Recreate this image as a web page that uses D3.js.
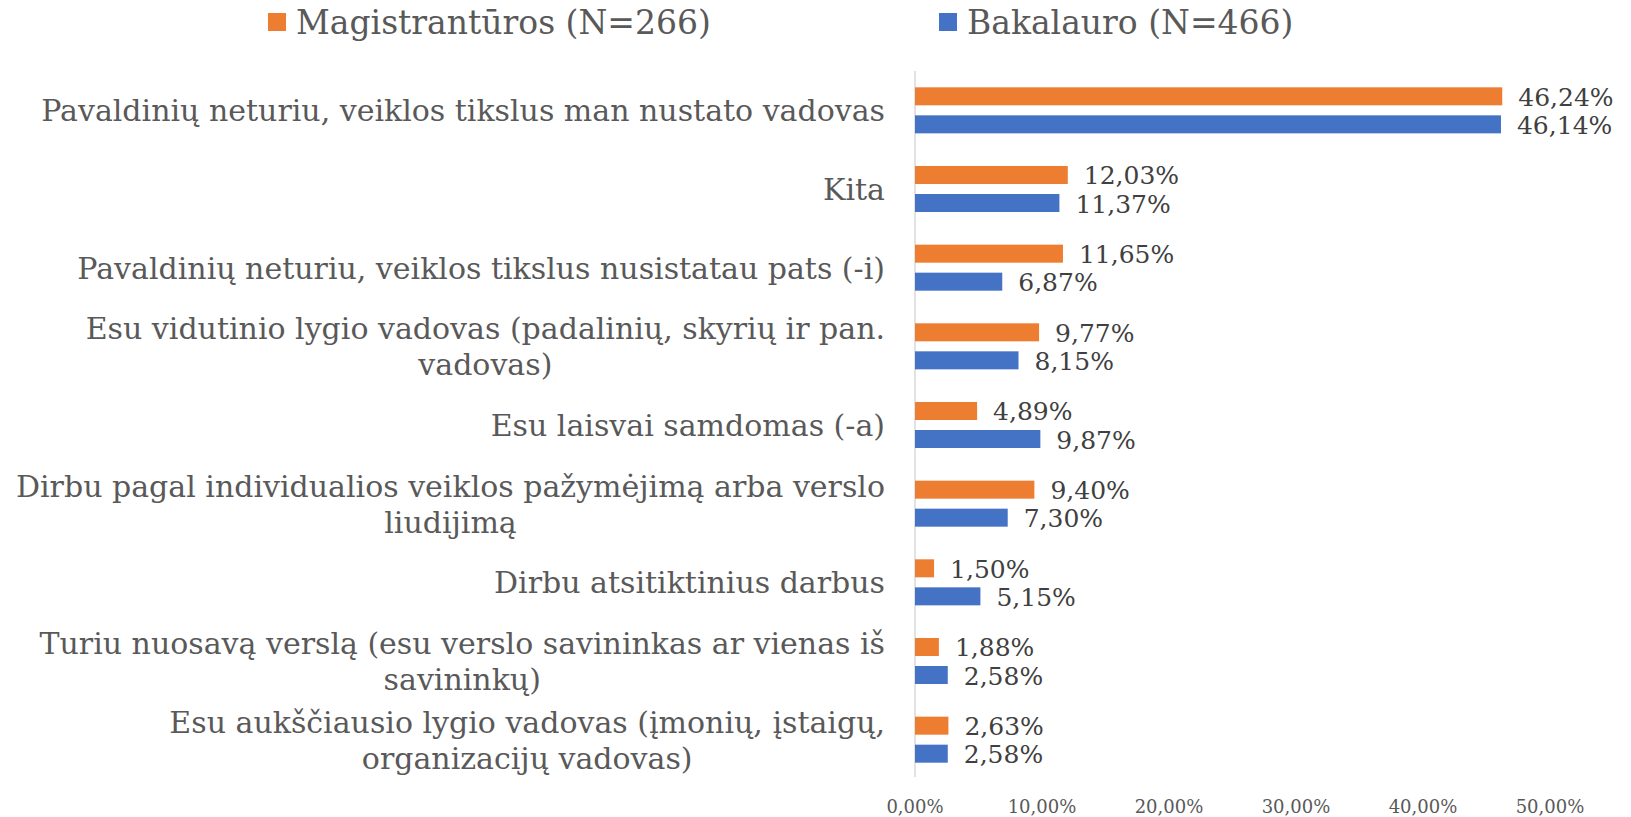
<!DOCTYPE html>
<html>
<head>
<meta charset="utf-8">
<script src="https://cdn.jsdelivr.net/npm/d3@7"></script>
<style>
  body { margin: 0; background: #fff; }
  svg { font-family: "DejaVu Serif", "Liberation Serif", serif; }
</style>
</head>
<body>
<svg id="chart" width="1631" height="817"></svg>
<script>
// categories, top to bottom (line breaks as in the original)
const categories = [
  ["Pavaldinių neturiu, veiklos tikslus man nustato vadovas"],
  ["Kita"],
  ["Pavaldinių neturiu, veiklos tikslus nusistatau pats (-i)"],
  ["Esu vidutinio lygio vadovas (padalinių, skyrių ir pan.", "vadovas)"],
  ["Esu laisvai samdomas (-a)"],
  ["Dirbu pagal individualios veiklos pažymėjimą arba verslo", "liudijimą"],
  ["Dirbu atsitiktinius darbus"],
  ["Turiu nuosavą verslą (esu verslo savininkas ar vienas iš", "savininkų)"],
  ["Esu aukščiausio lygio vadovas (įmonių, įstaigų,", "organizacijų vadovas)"]
];
const magistranturos = [46.24, 12.03, 11.65, 9.77, 4.89, 9.40, 1.50, 1.88, 2.63];
const bakalauro      = [46.14, 11.37, 6.87, 8.15, 9.87, 7.30, 5.15, 2.58, 2.58];
const seriesNames = ["Magistrantūros (N=266)", "Bakalauro (N=466)"];
const seriesColors = ["#ED7D31", "#4472C4"];
const xTicks = [0, 10, 20, 30, 40, 50];

const svg = d3.select("svg#chart");

const fmt = (v) => v.toFixed(2).replace(".", ",") + "%";

let x = d3.scaleLinear().domain([0, 50]).range([915, 1550]);
let y = d3.scaleBand().domain(d3.range(categories.length))
  .range([71, 779]).paddingInner(0.415).paddingOuter(0.2075);
let ySub = d3.scaleBand().domain([0, 1]).range([0, y.bandwidth()]).paddingInner(0.357);

// axis line
svg.append("line")
  .attr("x1", x(0)).attr("x2", x(0))
  .attr("y1", 71).attr("y2", 777)
  .attr("stroke", "#d9d9d9").attr("stroke-width", 1.5);

// x tick labels
svg.append("g").selectAll("text").data(xTicks).enter()
  .append("text")
  .attr("x", (d) => x(d))
  .attr("y", 806)
  .attr("text-anchor", "middle")
  .attr("dominant-baseline", "central")
  .attr("font-size", 18)
  .attr("fill", "#595959")
  .text((d) => d.toFixed(2).replace(".", ",") + "%");

const series = [magistranturos, bakalauro];

let g = svg.append("g");
series.forEach((vals, si) => {
  g.selectAll("rect.s" + si).data(vals).enter()
    .append("rect")
    .attr("class", "s" + si)
    .attr("x", x(0))
    .attr("y", (d, i) => y(i) + ySub(si))
    .attr("width", (d) => x(d) - x(0))
    .attr("height", ySub.bandwidth())
    .attr("fill", seriesColors[si]);

  g.selectAll("text.v" + si).data(vals).enter()
    .append("text")
    .attr("class", "v" + si)
    .attr("x", (d) => x(d) + 16)
    .attr("y", (d, i) => y(i) + ySub(si) + ySub.bandwidth() / 2 + 1)
    .attr("dominant-baseline", "central")
    .attr("font-size", 25)
    .attr("fill", "#404040")
    .text((d) => fmt(d));
});

// category labels: block right-aligned, lines centred in the block
const labelRight = 885;
const lineH = 36;
let gl = svg.append("g");
categories.forEach((lines, i) => {
  const cy = y(i) + y.bandwidth() / 2;
  const t = gl.append("text")
    .attr("font-size", 30)
    .attr("fill", "#595959")
    .attr("dominant-baseline", "central");
  const spans = lines.map((l, k) => t.append("tspan")
    .attr("y", cy + (k - (lines.length - 1) / 2) * lineH)
    .text(l));
  const widths = spans.map((s) => s.node().getComputedTextLength());
  const w = d3.max(widths);
  const mid = labelRight - w / 2;
  spans.forEach((s) => s.attr("x", mid).attr("text-anchor", "middle"));
});

// legend
const legendX = [268, 939];
seriesNames.forEach((name, si) => {
  svg.append("rect")
    .attr("x", legendX[si]).attr("y", 13)
    .attr("width", 18).attr("height", 18)
    .attr("fill", seriesColors[si]);
  svg.append("text")
    .attr("x", legendX[si] + 28).attr("y", 22)
    .attr("dominant-baseline", "central")
    .attr("font-size", 33)
    .attr("fill", "#595959")
    .text(name);
});
</script>
</body>
</html>
